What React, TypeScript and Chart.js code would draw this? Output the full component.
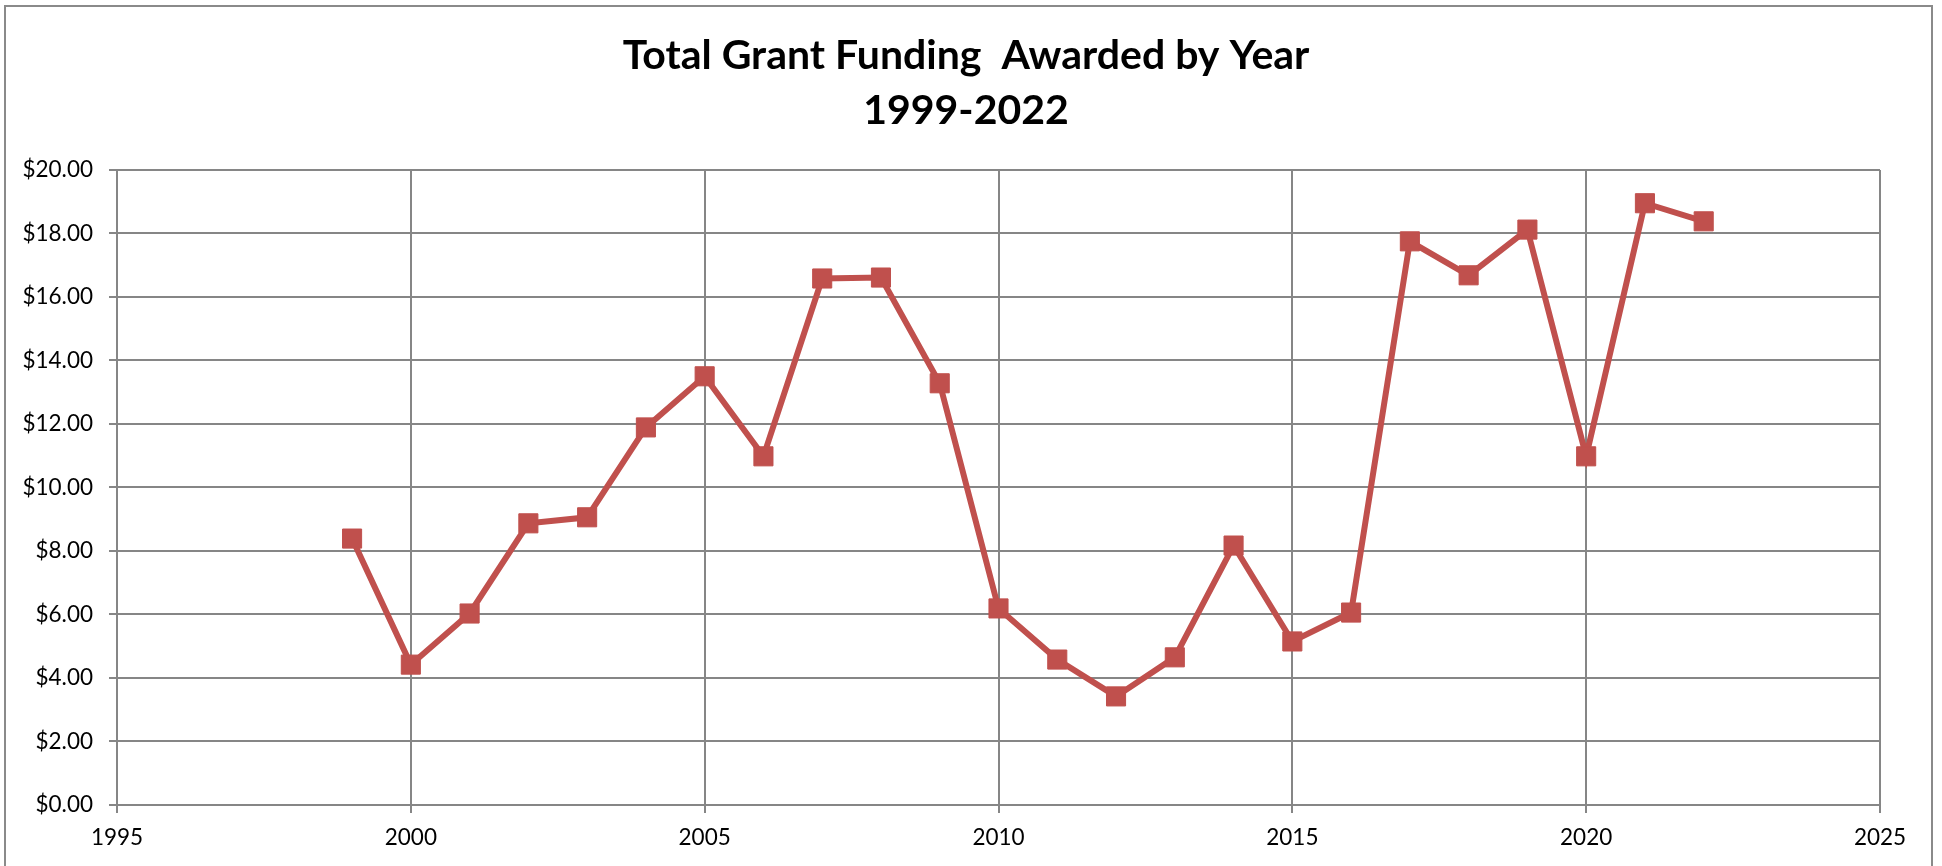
import React, { useEffect, useRef } from "react";
import { Chart, registerables } from "chart.js";

Chart.register(...registerables);

const years: number[] = [
  1999, 2000, 2001, 2002, 2003, 2004, 2005, 2006, 2007, 2008, 2009, 2010,
  2011, 2012, 2013, 2014, 2015, 2016, 2017, 2018, 2019, 2020, 2021, 2022,
];
const funding: number[] = [
  8.39, 4.42, 6.03, 8.87, 9.06, 11.89, 13.5, 10.98, 16.58, 16.61, 13.28, 6.19,
  4.58, 3.42, 4.65, 8.17, 5.15, 6.06, 17.75, 16.68, 18.12, 10.98, 18.95, 18.38,
];
const titleLines: string[] = ["Total Grant Funding  Awarded by Year", "1999-2022"];
const xMin = 1995;
const xMax = 2025;
const xStep = 5;
const yMin = 0;
const yMax = 20;
const yStep = 2;

const LINE_COLOR = "#C0504D";
const GRID_COLOR = "#868686";
const FONT = 'Lato, "Open Sans", sans-serif';

export default function App() {
  const canvasRef = useRef<HTMLCanvasElement | null>(null);

  useEffect(() => {
    if (!canvasRef.current) return;
    const chart = new Chart(canvasRef.current, {
      type: "line",
      data: {
        datasets: [
          {
            label: "Funding",
            data: years.map((y, i) => ({ x: y, y: funding[i] })),
            borderColor: LINE_COLOR,
            backgroundColor: LINE_COLOR,
            borderWidth: 6,
            pointStyle: "rect",
            pointRadius: 13.5,
            pointBorderWidth: 1,
            pointBorderColor: LINE_COLOR,
            pointBackgroundColor: LINE_COLOR,
            tension: 0,
            yAxisID: "y",
          },
        ],
      },
      options: {
        responsive: false,
        animation: false,
        layout: { padding: { left: 10, right: 20, top: 0, bottom: 0 } },
        plugins: {
          legend: { display: false },
          tooltip: { enabled: false },
          title: {
            display: true,
            text: titleLines,
            color: "#000",
            font: { family: FONT, size: 41, weight: "bold", lineHeight: 1.34 },
            padding: { top: 28, bottom: 32 },
          },
        },
        scales: {
          x: {
            type: "linear",
            min: xMin,
            max: xMax,
            afterFit: (scale: any) => {
              scale.height = 61;
            },
            ticks: {
              stepSize: xStep,
              color: "#000",
              font: { family: FONT, size: 22.5 },
              padding: 11,
              maxRotation: 0,
              callback: (v: any) => String(v),
            },
            grid: { color: GRID_COLOR, lineWidth: 2, tickLength: 8, drawTicks: true },
            border: { display: true, color: GRID_COLOR, width: 2 },
          },
          y: {
            type: "linear",
            position: "left",
            min: yMin,
            max: yMax,
            afterFit: (scale: any) => {
              scale.width = 107;
            },
            ticks: {
              stepSize: yStep,
              color: "#000",
              font: { family: FONT, size: 22.5 },
              padding: 16,
              callback: (v: any) => "$" + Number(v).toFixed(2),
            },
            grid: { color: GRID_COLOR, lineWidth: 2, tickLength: 8, drawTicks: true },
            border: { display: true, color: GRID_COLOR, width: 2 },
          },
          spacer: {
            type: "linear",
            position: "right",
            min: yMin,
            max: yMax,
            afterFit: (scale: any) => {
              scale.width = 42;
            },
            ticks: { display: false },
            grid: { display: false, drawTicks: false },
            border: { display: false },
          },
        },
      },
    });
    return () => chart.destroy();
  }, []);

  return (
    <div style={{ position: "fixed", left: 0, top: 0, width: 1942, height: 866, background: "#fff", overflow: "hidden" }}>
      <canvas ref={canvasRef} width={1942} height={866} style={{ display: "block" }} />
      <div
        style={{
          position: "absolute",
          left: 4,
          top: 5,
          width: 1929,
          height: 900,
          border: "2px solid #8a8a8a",
          boxSizing: "border-box",
          pointerEvents: "none",
        }}
      />
    </div>
  );
}
